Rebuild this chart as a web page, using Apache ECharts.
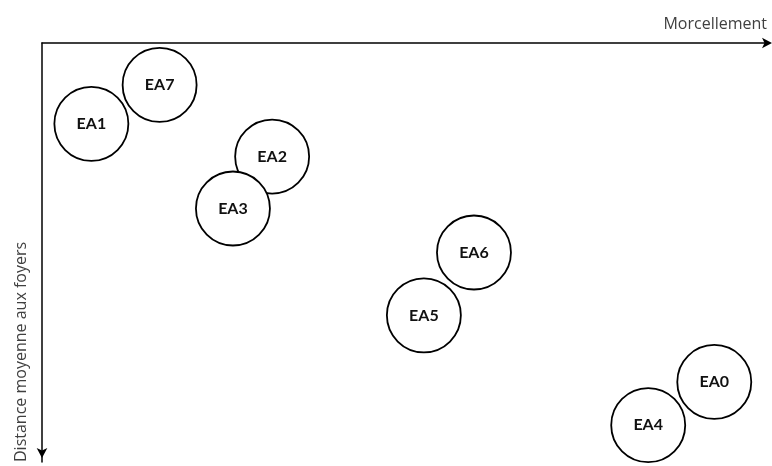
<!DOCTYPE html>
<html>
<head>
<meta charset="utf-8">
<script src="https://cdn.jsdelivr.net/npm/echarts@6/dist/echarts.min.js"></script>
<style>
  html, body { margin: 0; padding: 0; background: #fff; }
  #chart { width: 772px; height: 466px; }
</style>
</head>
<body>
<div id="chart"></div>
<script>
var names = ['EA1', 'EA7', 'EA2', 'EA3', 'EA6', 'EA5', 'EA0', 'EA4']
var morcellement = [6.8, 16.2, 31.7, 26.3, 59.5, 52.6, 92.6, 83.5]
var distance = [19.3, 10.0, 27.1, 39.5, 50.0, 65.0, 80.9, 91.2]

var xName = 'Morcellement'
var yName = 'Distance moyenne aux foyers'

var chart = echarts.init(document.getElementById('chart'))

var points = names.map(function(n, i) {
  return { name: n, value: [morcellement[i], distance[i]] }
})

chart.setOption({
  animation: false,
  grid: {
    left: 42,
    right: 4,
    top: 43,
    bottom: 4,
    outerBoundsMode: 'none'
  },
  xAxis: {
    type: 'value',
    position: 'top',
    min: 0,
    max: 100,
    name: xName,
    nameLocation: 'end',
    nameGap: -1,
    nameTextStyle: {
      align: 'right',
      verticalAlign: 'bottom',
      padding: [0, 0, 11, 0],
      fontFamily: 'Open Sans',
      fontSize: 16,
      color: '#404040'
    },
    axisLine: {
      lineStyle: { color: '#000', width: 1.5 },
      symbol: ['none', 'arrow'],
      symbolSize: [8, 10],
      symbolOffset: [0, 4]
    },
    axisTick: { show: false },
    axisLabel: { show: false },
    splitLine: { show: false }
  },
  yAxis: {
    type: 'value',
    inverse: true,
    min: 0,
    max: 100,
    name: yName,
    nameLocation: 'end',
    nameRotate: 90,
    nameGap: 0,
    nameTextStyle: {
      align: 'left',
      verticalAlign: 'bottom',
      padding: [0, 0, 13, 0],
      fontFamily: 'Open Sans',
      fontSize: 16,
      color: '#404040'
    },
    axisLine: {
      lineStyle: { color: '#000', width: 1.5 },
      symbol: ['arrow', 'none'],
      symbolSize: [8, 10],
      symbolOffset: [4, 0]
    },
    axisTick: { show: false },
    axisLabel: { show: false },
    splitLine: { show: false }
  },
  series: [{
    type: 'scatter',
    data: points,
    symbol: 'circle',
    symbolSize: 74,
    itemStyle: {
      color: '#fff',
      borderColor: '#000',
      borderWidth: 1.8,
      opacity: 1
    },
    label: {
      show: true,
      position: 'inside',
      formatter: '{b}',
      fontFamily: 'Lato',
      fontWeight: 'bold',
      fontSize: 16,
      color: '#111'
    }
  }]
})
</script>
</body>
</html>
